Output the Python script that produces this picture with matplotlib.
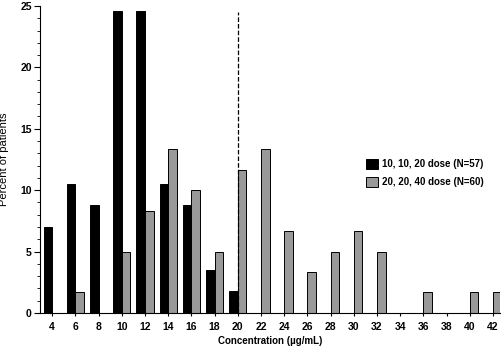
import numpy as np
import matplotlib.pyplot as plt

plt.rcParams['font.family'] = ['Liberation Sans', 'DejaVu Sans']

# concentration bins (ug/mL)
conc = [4, 6, 8, 10, 12, 14, 16, 18, 20, 22, 24, 26, 28, 30, 32, 34, 36, 38, 40, 42]
low_dose = [7.0, 10.5, 8.8, 24.6, 24.6, 10.5, 8.8, 3.5, 1.75, 0, 0, 0, 0, 0, 0, 0, 0, 0, 0, 0]
high_dose = [0, 1.67, 0, 5.0, 8.33, 13.33, 10.0, 5.0, 11.67, 13.33, 6.67, 3.33, 5.0, 6.67, 5.0, 0, 1.67, 0, 1.67, 1.67]
cutoff = 20

fig = plt.figure(figsize=(5.02, 3.52), dpi=100)
ax = fig.add_axes([0.08, 0.111, 0.916, 0.872])

w = 0.74
x = np.array(conc)
ax.bar(x, low_dose, width=-w, align='edge', color='black', edgecolor='black',
       linewidth=0.7, label='10, 10, 20 dose (N=57)')
ax.bar(x, high_dose, width=w, align='edge', color='#999999', edgecolor='black',
       linewidth=0.7, label='20, 20, 40 dose (N=60)')
ax.plot([cutoff, cutoff], [0, 24.5], color='black', linestyle='--', linewidth=0.9)

ax.set_xlim(2.97, 42.6)
ax.set_ylim(0, 25)
ax.set_xticks(conc)
ax.set_yticks([0, 5, 10, 15, 20, 25])
ax.set_yticks(np.arange(0, 26, 1), minor=True)
ax.tick_params(axis='x', length=2.5, pad=4, labelsize=7.5)
ax.tick_params(axis='y', which='major', length=4, pad=2, labelsize=7.5)
ax.tick_params(axis='y', which='minor', length=2)
for lab in ax.get_xticklabels() + ax.get_yticklabels():
    lab.set_fontweight('bold')
ax.spines['top'].set_visible(False)
ax.spines['right'].set_visible(False)

ax.set_xlabel('Concentration (\u00b5g/mL)', fontsize=7, fontweight='bold')
ax.xaxis.set_label_coords(0.5, -0.075)
ax.set_ylabel('Percent of patients', fontsize=8)
ax.yaxis.set_label_coords(-0.068, 0.5)

leg = ax.legend(loc='upper left', bbox_to_anchor=(0.69, 0.53), frameon=False,
                prop={'size': 7, 'weight': 'bold'}, handlelength=1.2,
                handleheight=1.2, handletextpad=0.4, labelspacing=0.8)

fig.savefig('out.png', dpi=100)
